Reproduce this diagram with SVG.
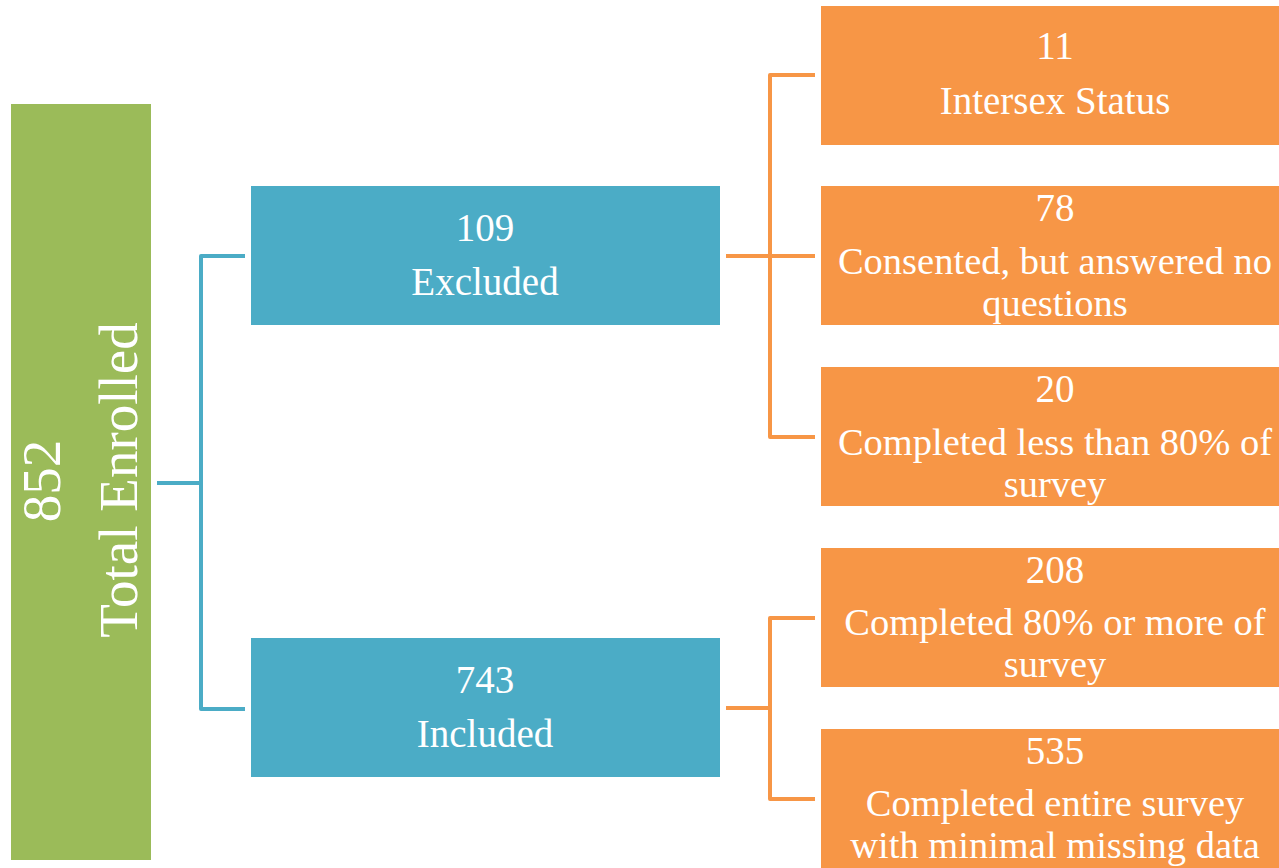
<svg xmlns="http://www.w3.org/2000/svg" width="1279" height="868" viewBox="0 0 1279 868">
<style>
.t{font-family:"Liberation Serif","Times New Roman",serif;fill:#fff;text-anchor:middle;font-size:39px}
.s{font-size:38.5px}
.big{font-size:55px}
.green{fill:#9BBB59}
.blue{fill:#4BACC6}
.orange{fill:#F79646}
.cb{fill:none;stroke:#4BACC6;stroke-width:4;stroke-linejoin:round}
.co{fill:none;stroke:#F79646;stroke-width:4;stroke-linejoin:round}
</style>
<rect width="1279" height="868" fill="#fff"/>
<g id="connectors">
<path class="cb" d="M157,483H201M245,256H201V709H245"/>
<path class="co" d="M726,256H770M815,75H770V437H815M770,256H815"/>
<path class="co" d="M726,708H770M815,618H770V799H815"/>
</g>
<g id="total">
<rect class="green" x="11" y="104" width="140" height="756"/>
<text class="t big" transform="translate(60,481) rotate(-90)" x="0" y="0">852</text>
<text class="t big" transform="translate(137,480) rotate(-90)" x="0" y="0">Total Enrolled</text>
</g>
<g id="excluded">
<rect class="blue" x="251" y="186" width="469" height="139"/>
<text class="t" x="485" y="241">109</text>
<text class="t" x="485" y="295">Excluded</text>
</g>
<g id="included">
<rect class="blue" x="251" y="638" width="469" height="139"/>
<text class="t" x="485" y="693">743</text>
<text class="t" x="485" y="747">Included</text>
</g>
<g id="intersex">
<rect class="orange" x="821" y="6" width="468" height="139"/>
<text class="t" x="1055" y="59">11</text>
<text class="t" x="1055" y="114">Intersex Status</text>
</g>
<g id="noanswer">
<rect class="orange" x="821" y="186" width="468" height="139"/>
<text class="t" x="1055" y="221">78</text>
<text class="t s" x="1055" y="274">Consented, but answered no</text>
<text class="t s" x="1055" y="316">questions</text>
</g>
<g id="less80">
<rect class="orange" x="821" y="367" width="468" height="139"/>
<text class="t" x="1055" y="402">20</text>
<text class="t s" x="1055" y="455">Completed less than 80% of</text>
<text class="t s" x="1055" y="497">survey</text>
</g>
<g id="more80">
<rect class="orange" x="821" y="548" width="468" height="139"/>
<text class="t" x="1055" y="583">208</text>
<text class="t s" x="1055" y="635">Completed 80% or more of</text>
<text class="t s" x="1055" y="677">survey</text>
</g>
<g id="entire">
<rect class="orange" x="821" y="729" width="468" height="139"/>
<text class="t" x="1055" y="764">535</text>
<text class="t s" x="1055" y="816">Completed entire survey</text>
<text class="t s" x="1055" y="858">with minimal missing data</text>
</g>
</svg>
